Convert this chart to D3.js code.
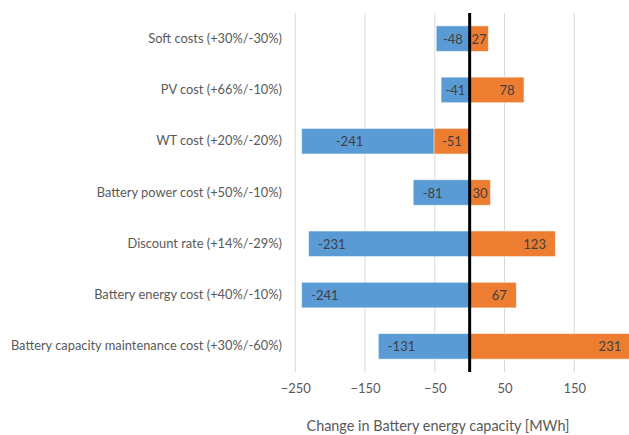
<!DOCTYPE html>
<html>
<head>
<meta charset="utf-8">
<script src="https://cdn.jsdelivr.net/npm/d3@7"></script>
<style>
  html, body { margin: 0; padding: 0; background: #fff; }
  svg { display: block; font-family: Lato, "Open Sans", sans-serif; }
</style>
</head>
<body>
<svg id="chart" width="629" height="435"></svg>
<script>
// Sensitivity parameters (top to bottom)
const categories = [
  "Soft costs (+30%/-30%)",
  "PV cost (+66%/-10%)",
  "WT cost (+20%/-20%)",
  "Battery power cost (+50%/-10%)",
  "Discount rate (+14%/-29%)",
  "Battery energy cost (+40%/-10%)",
  "Battery capacity maintenance cost (+30%/-60%)"
];
// Change in battery energy capacity [MWh] for each case
const seriesA = [-48, -41, -241, -81, -231, -241, -131];   // blue
const seriesB = [27, 78, -51, 30, 123, 67, 231];           // orange
const tickValues = [-250, -150, -50, 50, 150];
const axisTitle = "Change in Battery energy capacity [MWh]";

const colorA = "#5B9BD5";
const colorB = "#ED7D31";

const svg = d3.select("#chart");

const x = d3.scaleLinear().domain([-250, 250]).range([295.3, 644]);
const y = d3.scaleBand().domain(categories).range([13, 372])
  .paddingInner(0.5).paddingOuter(0.25);

// vertical gridlines
svg.append("g")
  .selectAll("line")
  .data(tickValues)
  .join("line")
  .attr("x1", d => x(d)).attr("x2", d => x(d))
  .attr("y1", 13).attr("y2", 372)
  .attr("stroke", "#d9d9d9").attr("stroke-width", 1);

// x axis tick labels
const xAxis = d3.axisBottom(x).tickValues(tickValues).tickSize(0).tickPadding(0);
const gx = svg.append("g").attr("transform", "translate(0,384)").call(xAxis);
gx.select(".domain").remove();
gx.selectAll("text")
  .attr("font-family", "Lato, 'Open Sans', sans-serif")
  .attr("font-size", 13)
  .attr("fill", "#595959");

// axis title
svg.append("text")
  .attr("x", 438).attr("y", 425)
  .attr("text-anchor", "middle").attr("dominant-baseline", "central")
  .attr("font-size", 14.4).attr("fill", "#595959")
  .text(axisTitle);

// category labels
const yAxis = d3.axisLeft(y).tickSize(0).tickPadding(0);
const gy = svg.append("g").attr("transform", "translate(282,0)").call(yAxis);
gy.select(".domain").remove();
gy.selectAll("text")
  .attr("font-family", "Lato, 'Open Sans', sans-serif")
  .attr("font-size", 12.85)
  .attr("fill", "#595959");

const rows = categories.map((c, i) => ({ cat: c, a: seriesA[i], b: seriesB[i] }));

function barRect(sel, key, color) {
  sel.append("g")
    .selectAll("rect")
    .data(rows)
    .join("rect")
    .attr("x", d => Math.min(x(0), x(d[key])))
    .attr("width", d => Math.abs(x(d[key]) - x(0)))
    .attr("y", d => y(d.cat))
    .attr("height", y.bandwidth())
    .attr("fill", color)
    .attr("stroke", "#ffffff").attr("stroke-opacity", 0.6).attr("stroke-width", 1);
}
barRect(svg, "a", colorA);
barRect(svg, "b", colorB);

// zero line
svg.append("line")
  .attr("x1", x(0)).attr("x2", x(0))
  .attr("y1", 13).attr("y2", 372)
  .attr("stroke", "#000").attr("stroke-width", 3);

// data labels: inside end of each bar, centred when the bar is short
const inset = 9.5;
function addLabels(key, otherKey) {
  const g = svg.append("g");
  rows.forEach(d => {
    const v = d[key];
    const t = g.append("text")
      .attr("y", y(d.cat) + y.bandwidth() / 2)
      .attr("dominant-baseline", "central")
      .attr("font-size", 13).attr("fill", "#404040")
      .text(v);
    const w = t.node().getComputedTextLength();
    const len = Math.abs(x(v) - x(0));
    let pos;
    if (len < w + 2 * inset) {
      pos = (x(v) + x(0)) / 2 - w / 2;
    } else if (v < 0) {
      pos = x(v) + inset;
      // push inward when the other bar on the same side is shorter and overlaps
      const o = d[otherKey];
      if (o < 0 && Math.abs(o) < Math.abs(v)) pos += w * 0.9;
    } else {
      pos = x(v) - inset - w;
    }
    t.attr("x", pos);
  });
}
addLabels("a", "b");
addLabels("b", "a");
</script>
</body>
</html>
